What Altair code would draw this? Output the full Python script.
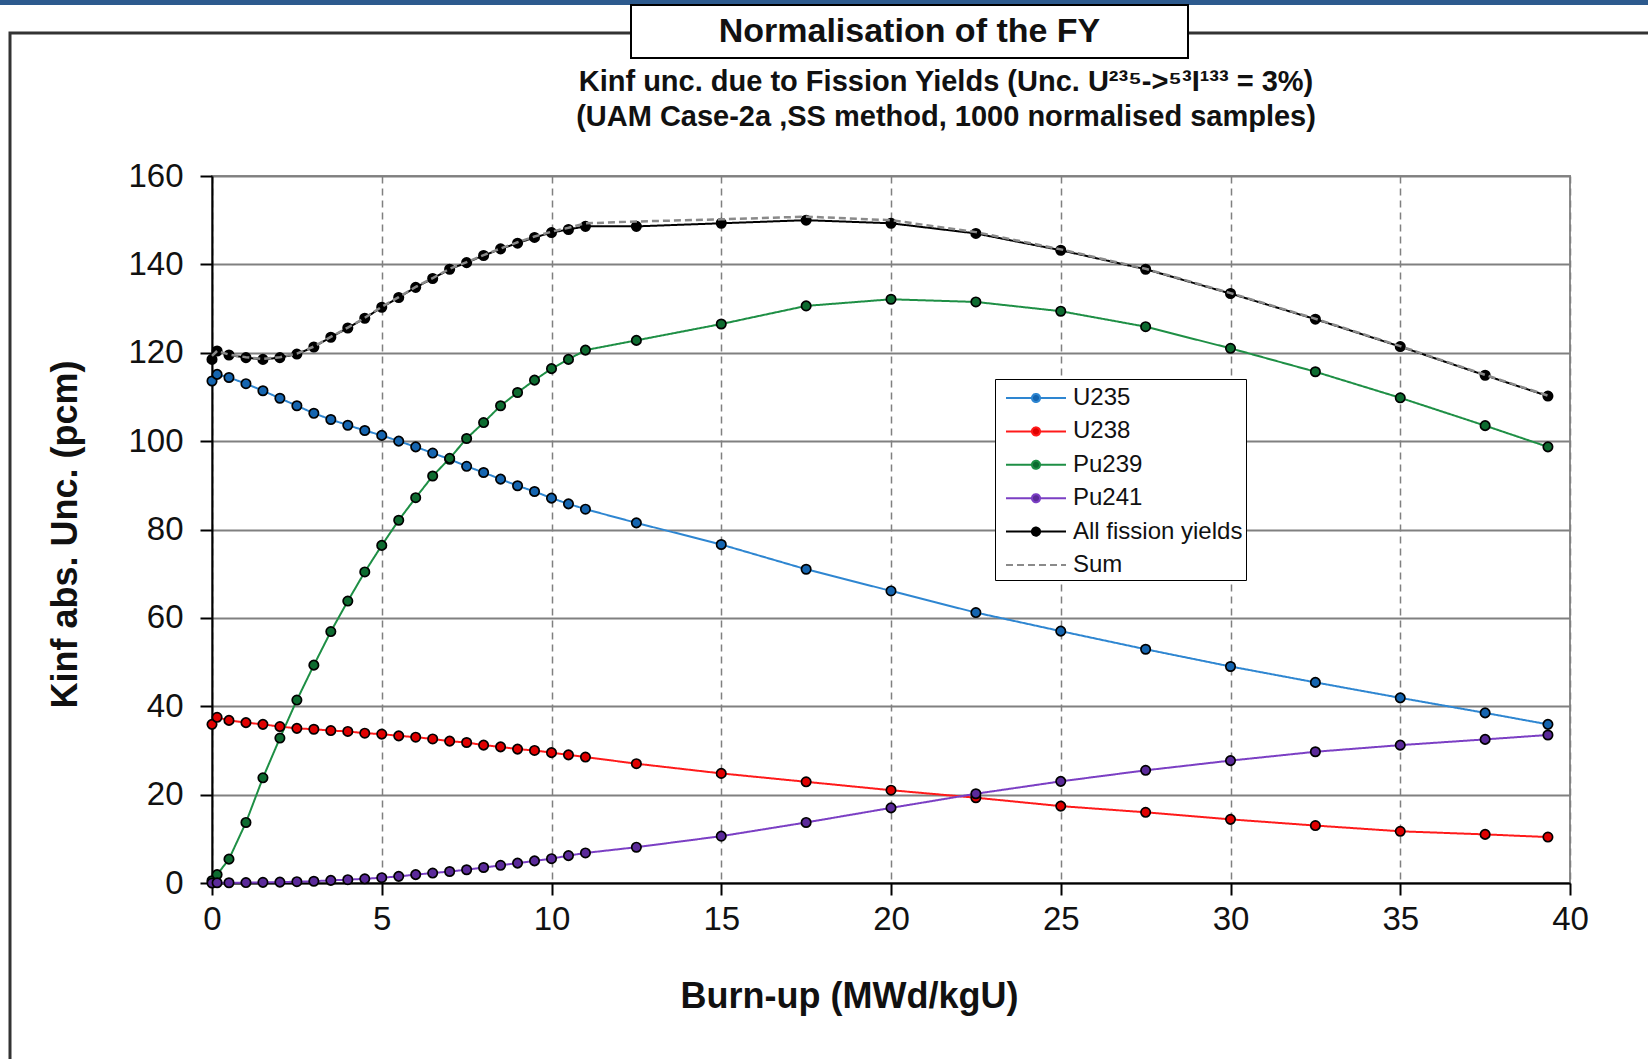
import altair as alt
import pandas as pd

# ---------------- data ----------------
BURNUP = [0, 0.15, 0.5, 1.0, 1.5, 2.0, 2.5, 3.0, 3.5, 4.0, 4.5, 5.0, 5.5, 6.0,
          6.5, 7.0, 7.5, 8.0, 8.5, 9.0, 9.5, 10.0, 10.5, 11.0,
          12.5, 15.0, 17.5, 20.0, 22.5, 25.0, 27.5, 30.0, 32.5, 35.0, 37.5, 39.35]

U235 = [113.6, 115.1, 114.4, 113.0, 111.4, 109.7, 108.0, 106.3, 104.9, 103.6,
        102.4, 101.3, 100.0, 98.7, 97.3, 95.9, 94.3, 92.9, 91.4, 89.9, 88.6,
        87.1, 85.8, 84.6,
        81.5, 76.6, 71.0, 66.1, 61.2, 57.0, 52.9, 49.0, 45.4, 41.9, 38.5, 35.9]

U238 = [35.9, 37.5, 36.8, 36.3, 35.9, 35.4, 35.0, 34.8, 34.5, 34.3, 33.9, 33.7,
        33.3, 33.0, 32.6, 32.1, 31.8, 31.2, 30.8, 30.3, 30.0, 29.5, 29.0, 28.5,
        27.0, 24.8, 22.9, 21.0, 19.3, 17.4, 16.0, 14.4, 13.0, 11.7, 11.0, 10.4]

PU239 = [0.5, 1.9, 5.4, 13.7, 23.8, 32.8, 41.4, 49.3, 56.9, 63.8, 70.4, 76.4,
         82.1, 87.2, 92.1, 96.1, 100.6, 104.2, 108.0, 111.0, 113.8, 116.4,
         118.5, 120.6,
         122.8, 126.5, 130.6, 132.1, 131.5, 129.4, 125.9, 121.0, 115.7, 109.8,
         103.5, 98.7]

PU241 = [0.0, 0.05, 0.05, 0.1, 0.15, 0.2, 0.3, 0.4, 0.6, 0.75, 0.95, 1.2, 1.5,
         1.9, 2.25, 2.6, 3.0, 3.5, 4.0, 4.5, 5.0, 5.5, 6.2, 6.8,
         8.1, 10.6, 13.7, 17.0, 20.2, 23.0, 25.5, 27.7, 29.7, 31.2, 32.5, 33.5]

ALL_FY = [118.5, 120.4, 119.5, 118.9, 118.5, 118.9, 119.7, 121.3, 123.5, 125.6,
          127.8, 130.3, 132.5, 134.8, 136.8, 138.9, 140.4, 142.0, 143.5, 144.8,
          146.1, 147.2, 147.9, 148.6,
          148.6, 149.3, 150.0, 149.3, 147.0, 143.2, 138.9, 133.4, 127.6, 121.4,
          114.9, 110.2]

SUM = [119.3, 120.4, 119.6, 119.0, 118.6, 119.0, 119.8, 121.4, 123.6, 125.7,
       127.9, 130.4, 132.6, 134.9, 136.9, 139.0, 140.5, 142.1, 143.6, 145.0,
       146.3, 147.4, 148.3, 149.3,
       149.7, 150.2, 150.8, 150.0, 147.3, 143.4, 139.0, 133.5, 127.7, 121.5,
       115.0, 110.3]

SERIES = ["U235", "U238", "Pu239", "Pu241", "All fission yields", "Sum"]
VALUES = [U235, U238, PU239, PU241, ALL_FY, SUM]

X_TICKS = [0, 5, 10, 15, 20, 25, 30, 35, 40]
Y_TICKS = [0, 20, 40, 60, 80, 100, 120, 140, 160]

TITLE = "Normalisation of the FY"
SUBTITLE_1 = "Kinf unc. due to Fission Yields (Unc. U²³⁵->⁵³I¹³³ = 3%)"
SUBTITLE_2 = "(UAM Case-2a ,SS method, 1000 normalised samples)"
X_TITLE = "Burn-up (MWd/kgU)"
Y_TITLE = "Kinf abs. Unc. (pcm)"

# ---------------- styling ----------------
FONT = "Liberation Sans, Arial, Helvetica, sans-serif"
LINE_COLORS = ["#2e86d1", "#ff1a1a", "#1e8f45", "#7b3fc4", "#000000", "#8a8a8a"]
POINT_FILLS = ["#1565b0", "#e00000", "#0d6b30", "#5b2a9a", "#000000", "transparent"]
DASHES = [[1, 0], [1, 0], [1, 0], [1, 0], [1, 0], [7, 4]]
R = 0.27
MARK_PATH = (f"M-2,0L-{R},0M{R},0L2,0M{R},0A{R},{R},0,1,1,-{R},0"
             f"A{R},{R},0,1,1,{R},0Z")
LINE_PATH = "M-2,0L2,0"
SHAPES = [MARK_PATH] * 5 + [LINE_PATH]

rows = []
for name, vals in zip(SERIES, VALUES):
    for xv, yv in zip(BURNUP, vals):
        rows.append({"burnup": xv, "unc": yv, "series": name})
df = pd.DataFrame(rows)

W, H = 1358, 707

stroke_scale = alt.Scale(domain=SERIES, range=LINE_COLORS)
fill_scale = alt.Scale(domain=SERIES, range=POINT_FILLS)
dash_scale = alt.Scale(domain=SERIES, range=DASHES)
shape_scale = alt.Scale(domain=SERIES, range=SHAPES)

x_enc = alt.X(
    "burnup:Q",
    scale=alt.Scale(domain=[0, 40], nice=False, zero=False),
    axis=alt.Axis(
        values=X_TICKS, title=X_TITLE, grid=True, gridDash=[7, 5],
        gridColor="#808080", gridWidth=1.5, domainColor="black", domainWidth=2,
        tickColor="black", tickWidth=2, tickSize=12, labelFont=FONT,
        labelFontSize=33, labelColor="#111111", labelPadding=8,
        labelFlush=False, labelOverlap=False,
        titleFont=FONT, titleFontSize=36, titleFontWeight="bold",
        titleColor="#111111", titleX=637, titleY=113, titleBaseline="middle",
        titleAlign="center"),
)
y_enc = alt.Y(
    "unc:Q",
    scale=alt.Scale(domain=[0, 160], nice=False),
    axis=alt.Axis(
        values=Y_TICKS, title=Y_TITLE, grid=True, gridColor="#808080",
        gridWidth=2, domainColor="black", domainWidth=2, tickColor="black",
        tickWidth=2, tickSize=12, labelFont=FONT, labelFontSize=33,
        labelColor="#111111", labelPadding=17, labelOverlap=False,
        titleFont=FONT, titleFontSize=36, titleFontWeight="bold",
        titleColor="#111111", titleX=-147, titleY=358, titleAngle=270,
        titleBaseline="middle", titleAlign="center"),
)

leg = alt.Legend(
    title=None, orient="none", legendX=783, legendY=203, direction="vertical",
    padding=3, strokeColor="black", fillColor="white", symbolSize=900,
    symbolStrokeWidth=2, symbolOffset=22, rowPadding=5.4,
    labelFont=FONT, labelFontSize=24, labelColor="#111111", labelOffset=21,
    labelLimit=400, cornerRadius=0, symbolOpacity=1,
)

base = alt.Chart(df)

# invisible layer (no rows) that only carries the merged legend
legend_layer = base.transform_filter("datum.burnup < -100").mark_point(
    filled=True, opacity=1).encode(
    x=x_enc, y=y_enc,
    fill=alt.Fill("series:N", scale=fill_scale, legend=leg),
    stroke=alt.Stroke("series:N", scale=stroke_scale, legend=leg),
    shape=alt.Shape("series:N", scale=shape_scale, legend=leg),
    strokeDash=alt.StrokeDash("series:N", scale=dash_scale, legend=leg),
)

lines = base.transform_filter("datum.series != 'Sum'").mark_line(strokeWidth=2).encode(
    x=x_enc, y=y_enc,
    stroke=alt.Stroke("series:N", scale=stroke_scale, legend=leg),
    strokeDash=alt.StrokeDash("series:N", scale=dash_scale, legend=leg),
    order=alt.Order("burnup:Q"),
)

points = base.transform_filter("datum.series != 'Sum'").mark_circle(
    size=88, stroke="black", strokeWidth=1.7, opacity=1).encode(
    x=x_enc, y=y_enc,
    fill=alt.Fill("series:N", scale=fill_scale, legend=leg),
)

sum_line = base.transform_filter("datum.series == 'Sum'").mark_line(strokeWidth=2.5).encode(
    x=x_enc, y=y_enc,
    stroke=alt.Stroke("series:N", scale=stroke_scale, legend=leg),
    strokeDash=alt.StrokeDash("series:N", scale=dash_scale, legend=leg),
    order=alt.Order("burnup:Q"),
)

# ---------------- page decoration ----------------
deco = alt.Chart(pd.DataFrame({"k": [0]}))
frame = deco.mark_rect(fillOpacity=0, stroke="#333333", strokeWidth=3).encode(
    x=alt.value(-202), x2=alt.value(1500), y=alt.value(-143), y2=alt.value(1000))
top_bar = deco.mark_rect(color="#2d5a8e").encode(
    x=alt.value(-212), x2=alt.value(1436), y=alt.value(-176), y2=alt.value(-171))
title_box = deco.mark_rect(fill="white", stroke="black", strokeWidth=2).encode(
    x=alt.value(419), x2=alt.value(976), y=alt.value(-171), y2=alt.value(-118))
title_text = deco.mark_text(
    font=FONT, fontSize=34, fontWeight="bold", color="#111111",
    align="center", baseline="middle").encode(
    x=alt.value(697.5), y=alt.value(-144.5), text=alt.value(TITLE))
sub1 = deco.mark_text(
    font=FONT, fontSize=29, fontWeight="bold", color="#111111",
    align="center", baseline="middle").encode(
    x=alt.value(734), y=alt.value(-94), text=alt.value(SUBTITLE_1))
sub2 = deco.mark_text(
    font=FONT, fontSize=29, fontWeight="bold", color="#111111",
    align="center", baseline="middle").encode(
    x=alt.value(734), y=alt.value(-59), text=alt.value(SUBTITLE_2))

chart = alt.layer(
    legend_layer, frame, top_bar, title_box, title_text, sub1, sub2,
    lines, points, sum_line,
).properties(
    width=W, height=H,
    padding={"left": 212, "top": 176, "right": 78, "bottom": 176},
    autosize=alt.AutoSizeParams(type="none"),
    background="white",
).configure_view(
    stroke="#8c8c8c", strokeWidth=2,
)

chart.save("out.html", embed_options={"renderer": "svg", "actions": False})
